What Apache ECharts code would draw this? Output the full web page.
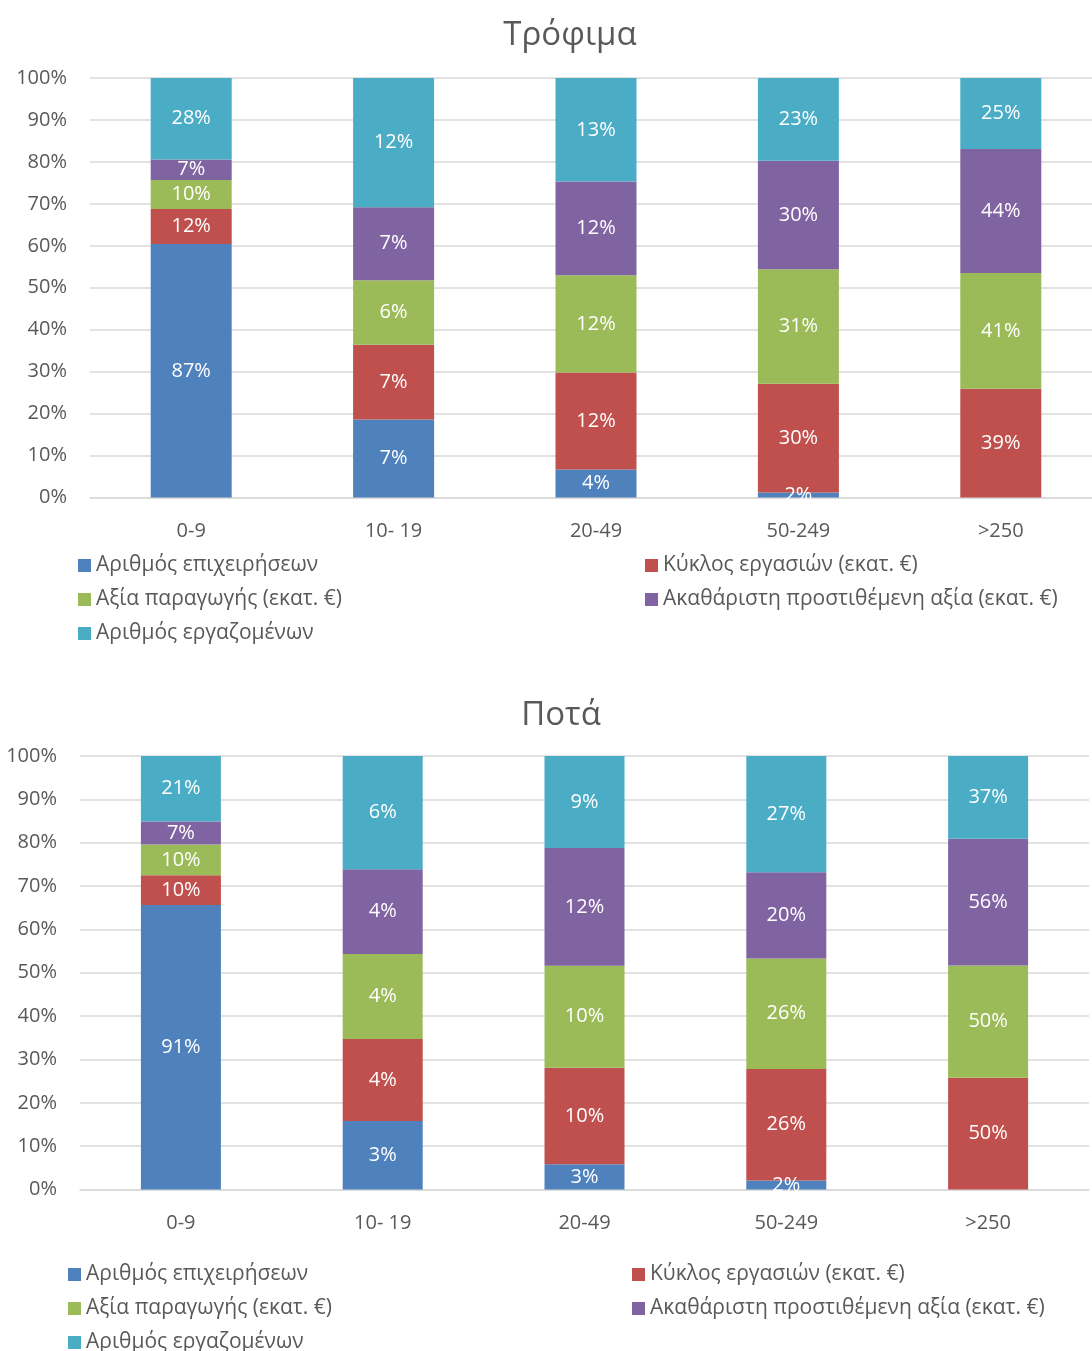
<!DOCTYPE html>
<html>
<head>
<meta charset="utf-8">
<script src="https://cdn.jsdelivr.net/npm/echarts@6/dist/echarts.min.js"></script>
<style>
html,body{margin:0;padding:0;background:#fff;overflow:hidden;}
#c{width:1120px;height:1420px;}
</style>
</head>
<body>
<div id="c"></div>
<script>
const categories = ['0-9', '10- 19', '20-49', '50-249', '>250'];
const seriesNames = ['Αριθμός επιχειρήσεων', 'Κύκλος εργασιών (εκατ. €)', 'Αξία παραγωγής (εκατ. €)', 'Ακαθάριστη προστιθέμενη αξία (εκατ. €)', 'Αριθμός εργαζομένων'];
const colors = ['#4f81bd', '#c0504d', '#9bbb59', '#8064a2', '#4bacc6'];
const yTicks = [0, 10, 20, 30, 40, 50, 60, 70, 80, 90, 100];

// Τρόφιμα: segment shares of each bar
const foodEnterprises = [60.4, 18.6, 6.7, 1.2, 0];
const foodTurnover = [8.4, 17.8, 23.1, 25.9, 25.9];
const foodProduction = [6.9, 15.4, 23.2, 27.3, 27.6];
const foodGVA = [4.9, 17.4, 22.3, 25.9, 29.6];
const foodEmployees = [19.4, 30.8, 24.7, 19.7, 16.9];
// Τρόφιμα: printed labels (%)
const foodEnterprisesLbl = [87, 7, 4, 2, null];
const foodTurnoverLbl = [12, 7, 12, 30, 39];
const foodProductionLbl = [10, 6, 12, 31, 41];
const foodGVALbl = [7, 7, 12, 30, 44];
const foodEmployeesLbl = [28, 12, 13, 23, 25];

// Ποτά: segment shares of each bar
const drinkEnterprises = [65.6, 15.8, 5.8, 2.1, 0];
const drinkTurnover = [6.9, 18.9, 22.3, 25.7, 25.8];
const drinkProduction = [7.1, 19.6, 23.5, 25.5, 25.9];
const drinkGVA = [5.3, 19.6, 27.2, 19.9, 29.2];
const drinkEmployees = [15.1, 26.1, 21.2, 26.8, 19.1];
// Ποτά: printed labels (%)
const drinkEnterprisesLbl = [91, 3, 3, 2, null];
const drinkTurnoverLbl = [10, 4, 10, 26, 50];
const drinkProductionLbl = [10, 4, 10, 26, 50];
const drinkGVALbl = [7, 4, 12, 20, 56];
const drinkEmployeesLbl = [21, 6, 9, 27, 37];

const FONT = 'Open Sans';
const GRAY = '#595959';
const GRID = '#d9d9d9';

function buildSeries(values, labels, stack, axisIdx, barWidth) {
  const sums = categories.map((_, i) => values.reduce((s, arr) => s + arr[i], 0));
  return values.map((arr, k) => ({
    name: seriesNames[k],
    type: 'bar',
    stack: stack,
    xAxisIndex: axisIdx,
    yAxisIndex: axisIdx,
    barWidth: barWidth,
    itemStyle: { color: colors[k] },
    label: {
      show: true,
      position: 'inside',
      color: '#ffffff',
      fontFamily: FONT,
      fontSize: 20,
      formatter: p => labels[k][p.dataIndex] == null ? '' : labels[k][p.dataIndex] + '%'
    },
    data: arr.map((v, i) => v / sums[i] * 100)
  }));
}

const foodSeries = buildSeries(
  [foodEnterprises, foodTurnover, foodProduction, foodGVA, foodEmployees],
  [foodEnterprisesLbl, foodTurnoverLbl, foodProductionLbl, foodGVALbl, foodEmployeesLbl],
  'food', 0, 81);
const drinkSeries = buildSeries(
  [drinkEnterprises, drinkTurnover, drinkProduction, drinkGVA, drinkEmployees],
  [drinkEnterprisesLbl, drinkTurnoverLbl, drinkProductionLbl, drinkGVALbl, drinkEmployeesLbl],
  'drink', 1, 80);

function xAx(gi) {
  return {
    type: 'category', gridIndex: gi, data: categories,
    axisTick: { show: false },
    axisLine: { lineStyle: { color: GRID, width: 1.5 } },
    axisLabel: { color: GRAY, fontFamily: FONT, fontSize: 20, margin: 24 }
  };
}
function yAx(gi) {
  return {
    type: 'value', gridIndex: gi, min: yTicks[0], max: yTicks[yTicks.length - 1],
    interval: yTicks[1] - yTicks[0],
    axisLine: { show: false }, axisTick: { show: false },
    splitLine: { lineStyle: { color: GRID, width: 1.5 } },
    axisLabel: { color: GRAY, fontFamily: FONT, fontSize: 20, margin: 23, formatter: '{value}%' }
  };
}
function legend(left, top, names) {
  return {
    orient: 'vertical', left: left, top: top, data: names,
    itemWidth: 13, itemHeight: 13, itemGap: 13, icon: 'rect',
    selectedMode: false,
    textStyle: { color: GRAY, fontFamily: FONT, fontSize: 21 }
  };
}

const chart = echarts.init(document.getElementById('c'));
chart.setOption({
  animation: false,
  title: [
    { text: 'Τρόφιμα', left: 565, top: 14, textAlign: 'center',
      textStyle: { color: GRAY, fontFamily: FONT, fontSize: 33, fontWeight: 'normal' } },
    { text: 'Ποτά', left: 556, top: 694, textAlign: 'center',
      textStyle: { color: GRAY, fontFamily: FONT, fontSize: 33, fontWeight: 'normal' } }
  ],
  legend: [
    legend(73, 550, [seriesNames[0], seriesNames[2], seriesNames[4]]),
    legend(640, 550, [seriesNames[1], seriesNames[3]]),
    legend(63, 1259, [seriesNames[0], seriesNames[2], seriesNames[4]]),
    legend(627, 1259, [seriesNames[1], seriesNames[3]])
  ],
  grid: [
    { left: 90, top: 78, width: 1012, height: 419.5 },
    { left: 80, top: 756, width: 1009, height: 433.5 }
  ],
  xAxis: [xAx(0), xAx(1)],
  yAxis: [yAx(0), yAx(1)],
  series: foodSeries.concat(drinkSeries)
});
</script>
</body>
</html>
